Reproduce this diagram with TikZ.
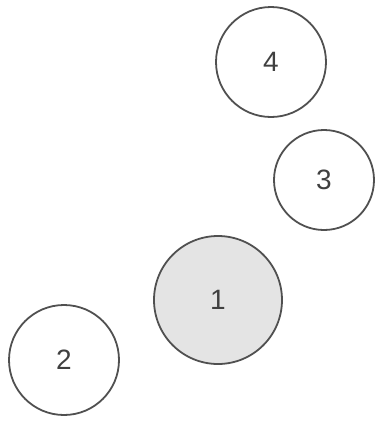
\documentclass[tikz,border=0pt]{standalone}
\usepackage{fontspec}
\setmainfont{Liberation Sans}
\definecolor{edge}{HTML}{505050}
\definecolor{txt}{HTML}{404040}
\definecolor{shade}{HTML}{E4E4E4}
\begin{document}
\begin{tikzpicture}[x=1pt,y=-1pt,
  ball/.style={circle,draw=edge,line width=1.8pt,inner sep=0pt,text=txt,font=\fontsize{28}{28}\selectfont}]
\useasboundingbox (0,0) rectangle (376,421);
\node[ball,minimum size=110pt] (n4) at (271,62) {4};
\node[ball,minimum size=100pt] (n3) at (324,180) {3};
\node[ball,minimum size=128pt,fill=shade] (n1) at (218,300) {1};
\node[ball,minimum size=110pt] (n2) at (64,360) {2};
\end{tikzpicture}
\end{document}
